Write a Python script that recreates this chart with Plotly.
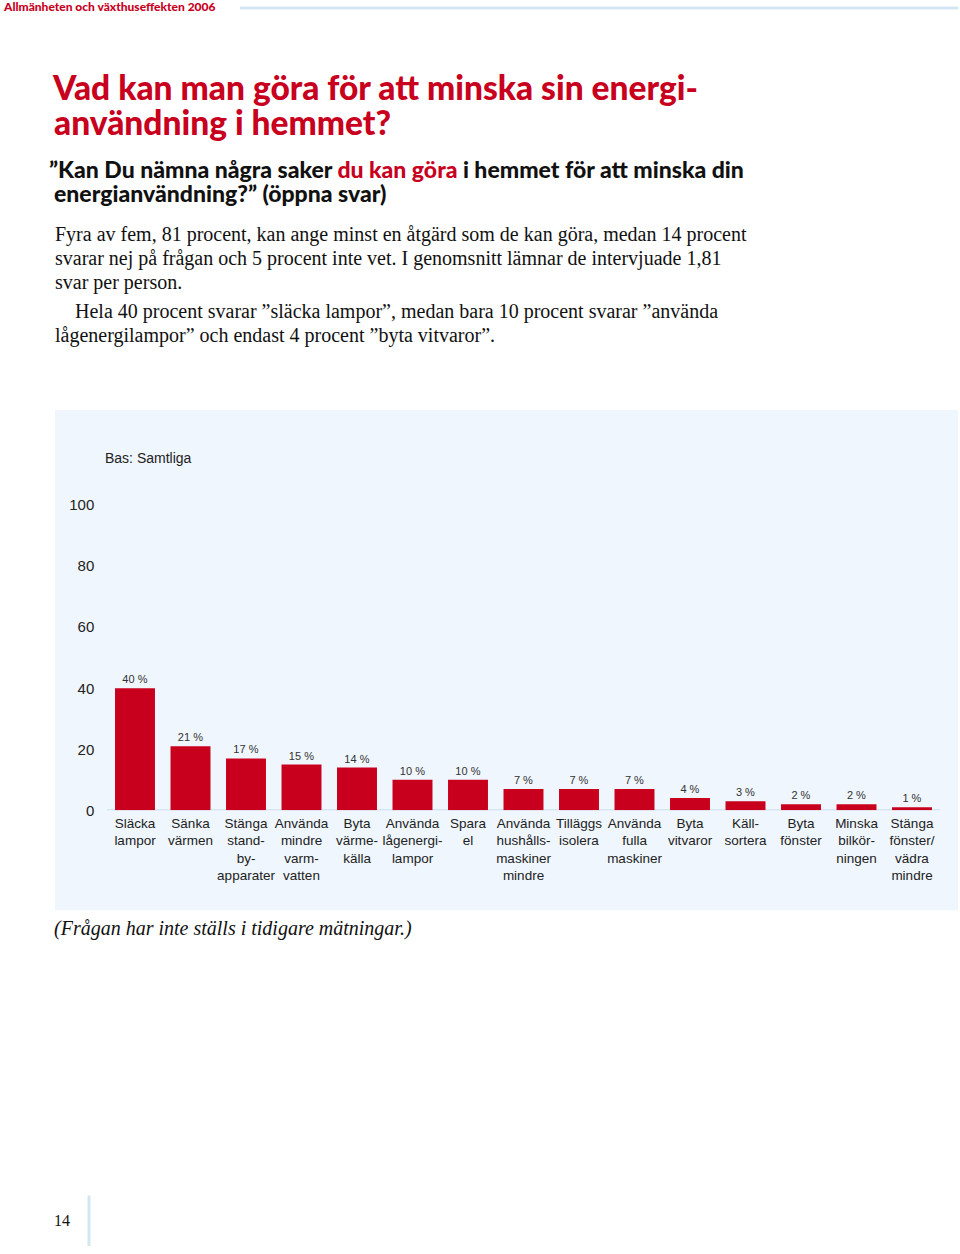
import plotly.graph_objects as go

W, H = 960, 1263

categories = [
    "Släcka<br>lampor", "Sänka<br>värmen", "Stänga<br>stand-<br>by-<br>apparater",
    "Använda<br>mindre<br>varm-<br>vatten", "Byta<br>värme-<br>källa",
    "Använda<br>lågenergi-<br>lampor", "Spara<br>el",
    "Använda<br>hushålls-<br>maskiner<br>mindre", "Tilläggs<br>isolera",
    "Använda<br>fulla<br>maskiner", "Byta<br>vitvaror", "Käll-<br>sortera",
    "Byta<br>fönster", "Minska<br>bilkör-<br>ningen", "Stänga<br>fönster/<br>vädra<br>mindre",
]
values = [40, 21, 17, 15, 14, 10, 10, 7, 7, 7, 4, 3, 2, 2, 1]
y_ticks = [0, 20, 40, 60, 80, 100]

RED = "#C8001E"
BOX = "#EFF6FD"
LINE = "#C9DFEE"

# empirical vertical calibration of the capture (page shifted up by 9px):
# shot_y = SY * fig_y + DY
SY, DY = 0.986, 0.126


def px(x):
    return x / W


def py(y):
    return 1 - ((y - DY) / SY) / H


xs = list(range(len(values)))

fig = go.Figure(go.Bar(
    x=xs, y=values,
    marker=dict(color=RED, line=dict(width=0)),
    text=[f"{v} %" for v in values],
    textposition="outside",
    textfont=dict(family="Liberation Sans", size=11, color="#333333"),
    cliponaxis=False,
    width=0.72,
))

fig.update_layout(
    width=W, height=H,
    margin=dict(l=0, r=0, t=0, b=0),
    paper_bgcolor="white",
    plot_bgcolor="rgba(0,0,0,0)",
    showlegend=False,
    font=dict(family="Liberation Sans", color="#222222"),
    xaxis=dict(
        domain=[px(107.25), px(939.75)],
        range=[-0.5, len(values) - 0.5],
        tickmode="array", tickvals=xs, ticktext=categories,
        tickangle=0,
        tickfont=dict(family="Liberation Sans", size=13.5, color="#222222"),
        showgrid=False, zeroline=False, showline=False, ticks="",
        ticklabelstandoff=3,
        fixedrange=True,
    ),
    yaxis=dict(
        domain=[py(810), py(505)],
        range=[0, 100],
        tickmode="array", tickvals=y_ticks,
        tickfont=dict(family="Liberation Sans", size=15, color="#222222"),
        showgrid=False, zeroline=False, showline=False, ticks="",
        ticklabelstandoff=12,
        fixedrange=True,
    ),
)

shapes = [
    dict(type="rect", xref="paper", yref="paper", x0=px(55), x1=px(958),
         y0=py(910), y1=py(410), fillcolor=BOX, line=dict(width=0), layer="below"),
    dict(type="line", xref="paper", yref="y", x0=px(107), x1=px(940), y0=0, y1=0,
         line=dict(color=LINE, width=2), layer="below"),
    dict(type="line", xref="paper", yref="paper", x0=px(240), x1=px(958),
         y0=py(8), y1=py(8), line=dict(color="#D3E7F3", width=3)),
    dict(type="line", xref="paper", yref="paper", x0=px(89), x1=px(89),
         y0=py(1195), y1=max(py(1254), 0), line=dict(color="#D3E7F3", width=3)),
]
fig.update_layout(shapes=shapes)

ann = []


def text(x, y, s, size, color="#111111", family="Liberation Serif", weight=None,
         italic=False):
    f = dict(family=family, size=size, color=color)
    if weight:
        f["weight"] = weight
    if italic:
        f["style"] = "italic"
    ann.append(dict(xref="paper", yref="paper", x=px(x), y=min(py(y), 1.0), text=s,
                    showarrow=False, xanchor="left", yanchor="middle", align="left",
                    borderpad=0, font=f))


text(2, 7, "Allmänheten och växthuseffekten 2006", 12, color=RED, family="Lato", weight=900)
text(51, 87, "Vad kan man göra för att minska sin energi-", 33.5, color=RED, family="Lato", weight=900)
text(53, 122, "användning i hemmet?", 33.5, color=RED, family="Lato", weight=900)
text(48, 169, "”Kan Du nämna några saker <span style='color:%s'>du kan göra</span> i hemmet för att minska din" % RED,
     23, color="#111111", family="Lato", weight=900)
text(53, 193, "energianvändning?” (öppna svar)", 23, color="#111111", family="Lato", weight=900)

body = [
    (54, 234, "Fyra av fem, 81 procent, kan ange minst en åtgärd som de kan göra, medan 14 procent"),
    (54, 258, "svarar nej på frågan och 5 procent inte vet. I genomsnitt lämnar de intervjuade 1,81"),
    (54, 282, "svar per person."),
    (74, 311, "Hela 40 procent svarar ”släcka lampor”, medan bara 10 procent svarar ”använda"),
    (54, 335, "lågenergilampor” och endast 4 procent ”byta vitvaror”."),
]
for x, y, s in body:
    text(x, y, s, 20)

text(104, 458, "Bas: Samtliga", 14, color="#222222", family="Liberation Sans")
text(53, 928, "(Frågan har inte ställs i tidigare mätningar.)", 20, italic=True)
text(53, 1220, "14", 16)

fig.update_layout(annotations=ann)

fig.write_html(
    "out.html",
    config={"displayModeBar": False, "staticPlot": True},
    post_script="document.body.style.margin='0';document.body.style.marginTop='-9px';"
                "document.body.style.overflow='hidden';",
)
